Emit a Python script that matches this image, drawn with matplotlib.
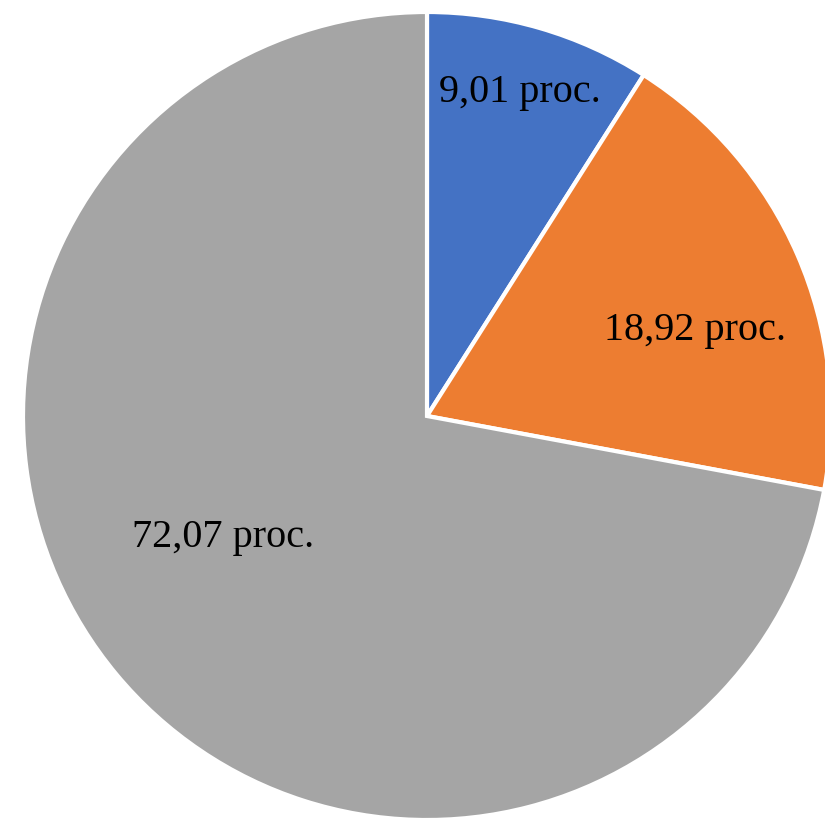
import matplotlib
matplotlib.use("Agg")
import matplotlib.pyplot as plt
import numpy as np

values = [9.01, 18.92, 72.07]
labels = ["9,01 proc.", "18,92 proc.", "72,07 proc."]
colors = ["#4472C4", "#ED7D31", "#A5A5A5"]

W, H = 825, 819
cx, cy, R = 427, 416, 404  # pixel layout of pie

fig = plt.figure(figsize=(W / 100, H / 100), dpi=100)
ax = fig.add_axes([0, 0, 1, 1])
wedges, _ = ax.pie(values, colors=colors, startangle=90, counterclock=False,
                   radius=1.0, center=(0, 0),
                   wedgeprops=dict(edgecolor="white", linewidth=3))
ax.set_xlim(-cx / R, (W - cx) / R)
ax.set_ylim(-(H - cy) / R, cy / R)
ax.set_aspect("auto")
ax.axis("off")

# label anchor points (baseline centre), in pie-radius units
label_pos = [(0.230, 0.777), (0.663, 0.188), (-0.505, -0.324)]
for lab, (x, y) in zip(labels, label_pos):
    ax.text(x, y, lab, ha="center", va="baseline",
            fontsize=29, family="Liberation Serif", color="black")

fig.savefig("out.png", dpi=100)
